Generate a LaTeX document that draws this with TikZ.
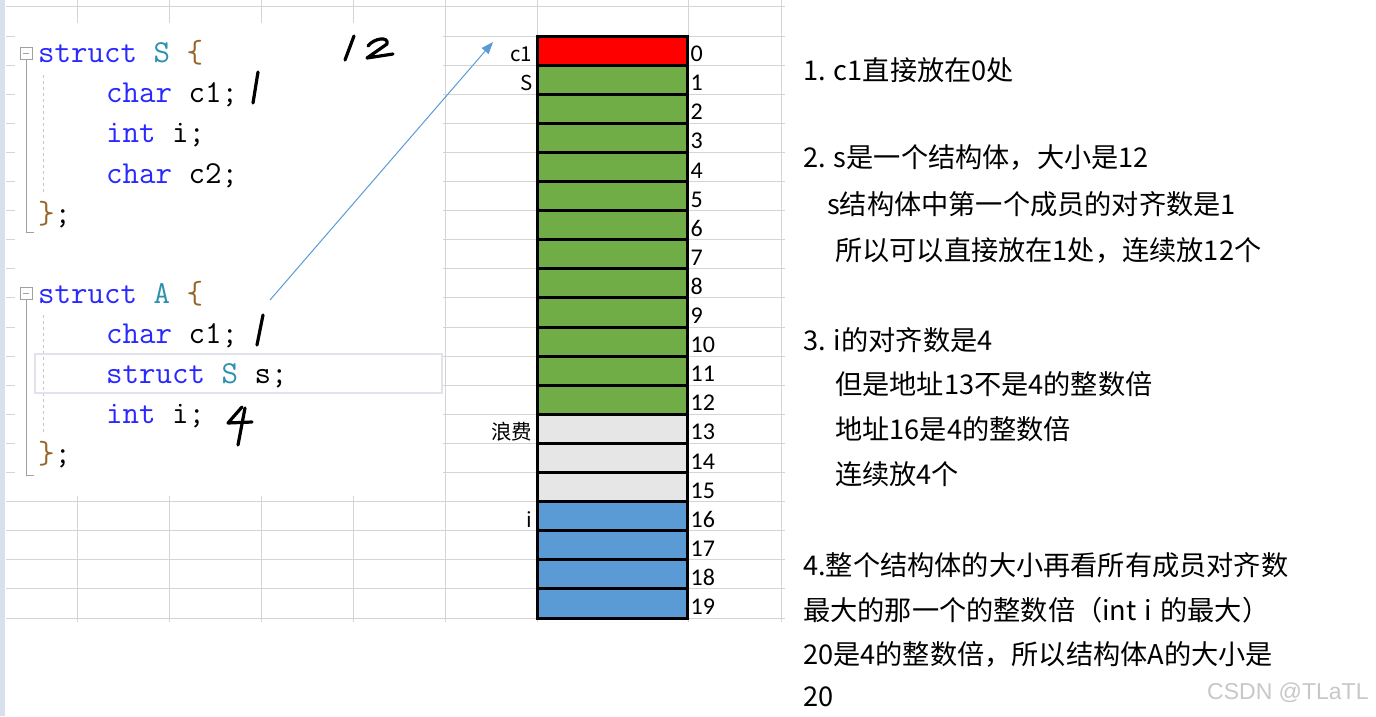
\documentclass[tikz,border=0pt]{standalone}
\usepackage{fontspec}
\setmainfont{Noto Sans CJK SC}
\newfontfamily\numfont{Carlito}
\newfontfamily\wmfont{Liberation Sans}
\usetikzlibrary{arrows.meta}

\definecolor{cgrid}{RGB}{212,212,212}
\definecolor{cstrip}{RGB}{216,224,238}
\definecolor{cred}{RGB}{255,0,0}
\definecolor{cgreen}{RGB}{112,173,71}
\definecolor{cgray}{RGB}{231,230,230}
\definecolor{cblue}{RGB}{91,155,213}
\definecolor{ckw}{RGB}{40,40,255}
\definecolor{ctype}{RGB}{43,145,175}
\definecolor{cbrace}{RGB}{150,100,40}
\definecolor{cfold}{RGB}{160,160,160}
\definecolor{chl}{RGB}{226,226,236}
\definecolor{cmark}{RGB}{200,200,200}

\newcommand{\kwd}[1]{\textcolor{ckw}{#1}}
\newcommand{\tname}[1]{\textcolor{ctype}{#1}}
\newcommand{\brc}[1]{\textcolor{cbrace}{#1}}

\tikzset{
    code/.style={anchor=base west, inner sep=0pt, font=\ttfamily\fontsize{32}{36}\selectfont},
    cell/.style={draw=black, line width=3pt, minimum width=150pt, minimum height=29.1pt, inner sep=0pt},
    addr/.style={anchor=base west, inner sep=0pt, xshift=2pt, yshift=5pt, font=\numfont\fontsize{24}{27}\selectfont},
    tag/.style={anchor=base east, inner sep=0pt, xshift=-3pt, yshift=5pt, font=\fontsize{20.5}{23}\selectfont},
    note/.style={anchor=west, inner sep=0pt, font=\fontsize{27.2}{30}\selectfont},
    pen/.style={line width=3.2pt, line cap=round, line join=round},
    fold/.style={cfold, line width=1pt},
    pointer/.style={cblue, line width=1pt, -{Triangle[length=12pt,width=9pt]}}
}

\begin{document}
\begin{tikzpicture}[x=1pt,y=-1pt]
    \useasboundingbox (0,0) rectangle (1376,716);
    \fill[white] (0,0) rectangle (1376,716);

    % sheet grid
    \foreach \gx in {77,169,261,353,445,537,688,781}
        \draw[cgrid, line width=1pt] (\gx,0) -- (\gx,622);
    \foreach \k in {0,...,21}
        \draw[cgrid, line width=1pt] (6,{6.9+29.1*\k}) -- (785,{6.9+29.1*\k});
    \fill[cstrip] (0,0) rectangle (5,716);

    % pasted code and text box
    \fill[white] (15,23) rectangle (443,496);
    \fill[white] (786,0) rectangle (1376,716);
    \fill[white] (5,623) rectangle (786,716);

    % folding marks
    \draw[fold] (20,47) rectangle (32,59);
    \draw[fold] (23,53) -- (29,53);
    \draw[fold] (26,59) -- (26,232) -- (34,232);
    \draw[cfold!60, dashed] (43,75) -- (43,193);
    \draw[fold] (20,287) rectangle (32,299);
    \draw[fold] (23,293) -- (29,293);
    \draw[fold] (26,299) -- (26,475) -- (34,475);
    \draw[cfold!60, dashed] (43,315) -- (43,433);
    \draw[chl, line width=1.5pt] (35,354) rectangle (442,393);

    % struct S
    \node[code] (sHead) at (38,62) {\kwd{struct} \tname{S} \brc{\{}};
    \node[code] (sC1) at (106,102) {\kwd{char} c1;};
    \node[code] (sI) at (106,142) {\kwd{int} i;};
    \node[code] (sC2) at (106,183) {\kwd{char} c2;};
    \node[code] (sEnd) at (38,223) {\brc{\}};};

    % struct A
    \node[code] (aHead) at (38,303) {\kwd{struct} \tname{A} \brc{\{}};
    \node[code] (aC1) at (106,343) {\kwd{char} c1;};
    \node[code] (aS) at (106,383) {\kwd{struct} \tname{S} s;};
    \node[code] (aI) at (106,423) {\kwd{int} i;};
    \node[code] (aEnd) at (38,463) {\brc{\}};};

    % hand written sizes
    \draw[pen] (354,36) -- (345,60);
    \draw[pen] (368,46) .. controls (374,38) and (389,36) .. (387,44) -- (367,58) -- (393,54);
    \draw[pen] (258,72) -- (253,103);
    \draw[pen] (263,315) -- (257,345);
    \draw[pen] (242,407) -- (228,423) -- (252,422);
    \draw[pen] (245,408) -- (238,445);

    % memory cells
    \node[cell, fill=cred] (cell0) at (612,50.55) {};
    \foreach \k in {1,...,12}
        \node[cell, fill=cgreen] (cell\k) at (612,{50.55+29.1*\k}) {};
    \foreach \k in {13,14,15}
        \node[cell, fill=cgray] (cell\k) at (612,{50.55+29.1*\k}) {};
    \foreach \k in {16,...,19}
        \node[cell, fill=cblue] (cell\k) at (612,{50.55+29.1*\k}) {};
    \foreach \k in {0,...,19}
        \node[addr] (addr\k) at (cell\k.south east) {\k};

    \node[tag] (tagC1) at (cell0.south west) {c1};
    \node[tag] (tagS) at (cell1.south west) {S};
    \node[tag] (tagPad) at (cell13.south west) {浪费};
    \node[tag] (tagI) at (cell16.south west) {i};

    % arrow from the member to the cells
    \coordinate (ptrTail) at (270,300);
    \coordinate (ptrHead) at (493,42);
    \draw[pointer] (ptrTail) -- (ptrHead);

    % notes
    \node[note] (note1) at (803,70) {1. c1直接放在0处};
    \node[note] (note2a) at (803,158) {2. s是一个结构体，大小是12};
    \node[note] (note2b) at (827,204) {s结构体中第一个成员的对齐数是1};
    \node[note] (note2c) at (835,250) {所以可以直接放在1处，连续放12个};
    \node[note] (note3a) at (803,340) {3. i的对齐数是4};
    \node[note] (note3b) at (835,384) {但是地址13不是4的整数倍};
    \node[note] (note3c) at (835,429) {地址16是4的整数倍};
    \node[note] (note3d) at (835,474) {连续放4个};
    \node[note] (note4a) at (803,565) {4.整个结构体的大小再看所有成员对齐数};
    \node[note] (note4b) at (803,610) {最大的那一个的整数倍（int\hspace{0.3em}i\hspace{0.3em}的最大）};
    \node[note] (note4c) at (803,654) {20是4的整数倍，所以结构体A的大小是};
    \node[note] (note4d) at (803,697) {20};

    \node[anchor=west, inner sep=0pt, text=cmark, font=\wmfont\fontsize{23}{26}\selectfont] (mark) at (1207,693) {CSDN @TLaTL};
\end{tikzpicture}
\end{document}
